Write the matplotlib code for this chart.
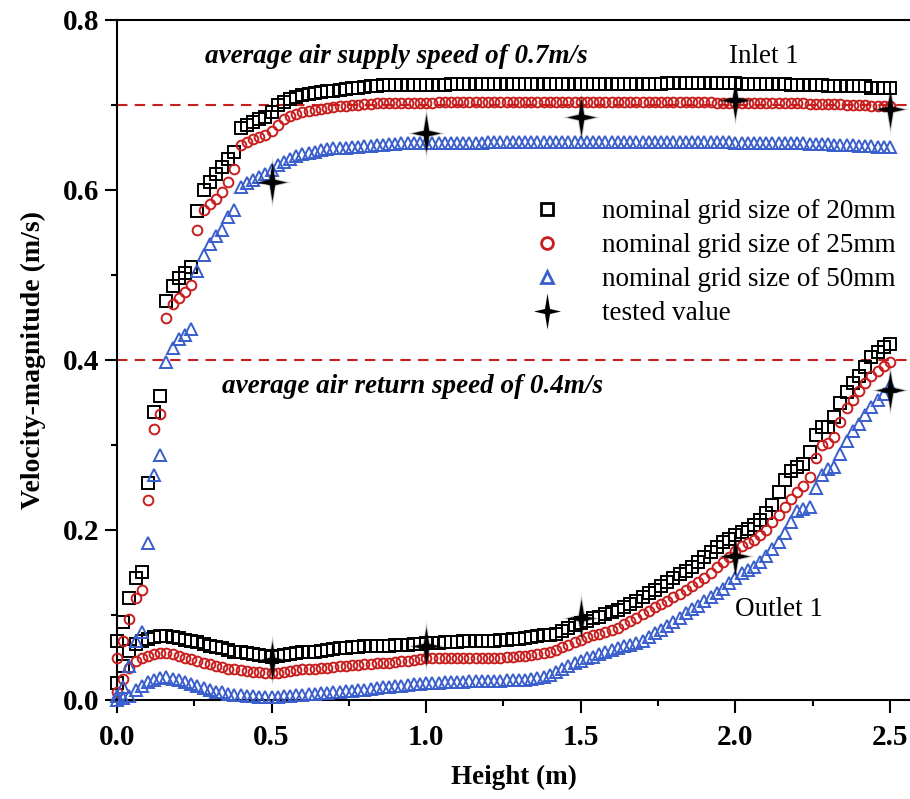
import numpy as np
import matplotlib
matplotlib.use('Agg')
import matplotlib.pyplot as plt
from matplotlib.lines import Line2D
from matplotlib.path import Path

plt.rcParams['font.family'] = ['Liberation Serif', 'DejaVu Serif']

# sample heights along the monitoring line (m)
heights = np.round(np.arange(0, 2.501, 0.02), 2)

# inlet 1 profiles (upper curves)
g20_in = [.070, .092, .120, .143, .151, .255, .339, .358, .470, .487,
          .496, .502, .510, .575, .600, .610, .619, .627, .636, .645,
          .673, .676, .680, .683, .686, .692, .700, .704, .707, .710,
          .712, .713, .714, .715, .716, .717, .718, .719, .720, .720,
          .721, .722, .722, .723, .723, .724, .724, .724, .724, .724,
          .724, .724, .724, .724, .725, .725, .725, .725, .725, .725,
          .725, .725, .725, .725, .725, .725, .725, .725, .725, .725,
          .725, .725, .725, .725, .725, .725, .725, .725, .725, .725,
          .725, .725, .725, .725, .725, .725, .725, .725, .725, .726,
          .726, .726, .726, .726, .726, .726, .726, .726, .726, .726,
          .726, .725, .725, .725, .725, .725, .725, .725, .725, .723,
          .723, .723, .723, .723, .723, .722, .722, .722, .722, .722,
          .722, .722, .720, .720, .720, .720]
g25_in = [.050, .070, .095, .120, .130, .235, .319, .337, .450, .466,
          .473, .480, .488, .553, .576, .584, .590, .598, .610, .625,
          .653, .656, .660, .662, .665, .670, .677, .684, .687, .690,
          .692, .693, .694, .695, .697, .698, .699, .699, .700, .700,
          .701, .701, .702, .702, .702, .702, .702, .702, .702, .702,
          .702, .702, .703, .703, .703, .703, .703, .703, .703, .703,
          .703, .703, .703, .703, .703, .703, .703, .703, .703, .703,
          .703, .703, .703, .703, .703, .703, .703, .703, .703, .703,
          .703, .703, .703, .703, .703, .703, .703, .703, .703, .703,
          .703, .703, .703, .703, .703, .703, .703, .702, .702, .702,
          .702, .702, .702, .702, .702, .702, .702, .702, .702, .702,
          .702, .702, .701, .701, .701, .701, .701, .701, .700, .700,
          .700, .700, .699, .699, .699, .699]
g50_in = [.005, .015, .040, .070, .080, .185, .265, .288, .398, .414,
          .425, .430, .437, .505, .524, .536, .546, .553, .568, .577,
          .604, .608, .612, .615, .619, .624, .630, .633, .636, .640,
          .642, .644, .645, .647, .648, .649, .650, .650, .651, .651,
          .652, .652, .653, .653, .654, .654, .655, .655, .655, .655,
          .655, .655, .655, .655, .655, .655, .655, .655, .655, .655,
          .656, .656, .656, .656, .656, .656, .656, .656, .656, .656,
          .656, .656, .656, .656, .656, .656, .656, .656, .656, .656,
          .656, .656, .656, .656, .656, .656, .656, .656, .656, .656,
          .656, .656, .656, .656, .656, .656, .656, .656, .656, .656,
          .655, .655, .655, .655, .655, .655, .655, .655, .655, .655,
          .655, .655, .654, .654, .654, .654, .653, .653, .653, .653,
          .652, .652, .652, .651, .651, .651]

# outlet 1 profiles (lower curves)
g20_out = [.020, .040, .058, .066, .070, .072, .074, .075, .075, .074,
           .073, .071, .070, .068, .066, .064, .062, .061, .059, .057,
           .056, .055, .054, .053, .052, .051, .052, .053, .054, .055,
           .056, .057, .057, .058, .059, .060, .061, .061, .062, .062,
           .063, .063, .064, .064, .064, .065, .065, .065, .066, .066,
           .067, .067, .067, .068, .068, .068, .069, .069, .069, .070,
           .070, .070, .071, .071, .072, .072, .073, .074, .075, .076,
           .077, .078, .081, .085, .088, .091, .093, .096, .098, .101,
           .103, .106, .110, .113, .117, .121, .126, .130, .134, .139,
           .144, .148, .152, .157, .162, .168, .174, .180, .186, .190,
           .194, .198, .201, .206, .212, .220, .230, .245, .259, .270,
           .274, .278, .292, .312, .321, .321, .333, .349, .362, .373,
           .381, .392, .403, .410, .415, .419]
g25_out = [.010, .025, .038, .046, .050, .052, .054, .055, .055, .054,
           .052, .050, .048, .046, .044, .042, .040, .039, .037, .036,
           .035, .034, .033, .033, .032, .032, .032, .033, .034, .035,
           .036, .036, .037, .038, .038, .039, .040, .040, .041, .041,
           .042, .042, .043, .044, .044, .045, .046, .046, .047, .048,
           .049, .049, .049, .049, .050, .050, .050, .050, .050, .050,
           .050, .050, .050, .051, .051, .052, .052, .053, .054, .055,
           .057, .059, .062, .065, .068, .071, .074, .076, .078, .080,
           .082, .085, .089, .093, .097, .101, .105, .109, .113, .117,
           .121, .125, .129, .134, .139, .144, .150, .156, .162, .168,
           .175, .181, .185, .188, .194, .200, .209, .218, .227, .236,
           .245, .252, .262, .285, .300, .302, .310, .327, .343, .353,
           .363, .373, .381, .387, .393, .398]
g50_out = [.000, .002, .005, .012, .017, .021, .024, .026, .027, .025,
           .023, .021, .019, .016, .014, .012, .010, .009, .007, .006,
           .006, .005, .005, .004, .004, .004, .004, .005, .005, .006,
           .006, .007, .007, .008, .008, .009, .010, .011, .011, .012,
           .012, .013, .014, .015, .015, .016, .017, .018, .019, .019,
           .020, .020, .020, .021, .021, .021, .021, .022, .022, .022,
           .022, .022, .022, .023, .023, .024, .024, .025, .026, .027,
           .030, .033, .037, .040, .043, .046, .049, .051, .054, .056,
           .059, .061, .063, .065, .067, .070, .074, .079, .082, .087,
           .092, .097, .102, .107, .111, .116, .121, .126, .131, .138,
           .144, .149, .153, .157, .162, .170, .178, .186, .196, .210,
           .222, .225, .227, .250, .265, .272, .274, .290, .305, .317,
           .325, .335, .345, .353, .360, .370]

# measured values
tested_x = [0.5, 1.0, 1.5, 2.0, 2.5]
tested_inlet = [0.609, 0.667, 0.686, 0.706, 0.695]
tested_outlet = [0.047, 0.064, 0.097, 0.169, 0.365]

supply_speed = 0.7
return_speed = 0.4

labels = ['nominal grid size of 20mm', 'nominal grid size of 25mm',
          'nominal grid size of 50mm', 'tested value']

black = '#000000'
red = '#c81e1e'
blue = '#3a5fcd'

# four pointed star for the tested values
r = 0.14
star = Path([(0, 1), (r, r), (0.75, 0), (r, -r), (0, -1), (-r, -r),
             (-0.75, 0), (-r, r), (0, 1)],
            [Path.MOVETO] + [Path.LINETO] * 7 + [Path.CLOSEPOLY])

fig = plt.figure(figsize=(9.1, 7.99), dpi=100)
ax = fig.add_axes([117 / 910, 99 / 799, 793 / 910, 680 / 799])

ax.axhline(supply_speed, color=red, ls=(0, (5, 3.5)), lw=1.5, zorder=1)
ax.axhline(return_speed, color=red, ls=(0, (5, 3.5)), lw=1.5, zorder=1)

series = [(g20_in, g20_out, 's', black, 8),
          (g25_in, g25_out, 'o', red, 7),
          (g50_in, g50_out, '^', blue, 8)]
for y_in, y_out, mk, col, ms in series:
    for y in (y_in, y_out):
        ax.plot(heights, y, ls='none', marker=mk, ms=ms, mfc='none',
                mec=col, mew=1.4, zorder=3, clip_on=False)

# stars with a soft dark halo
for y in (tested_inlet, tested_outlet):
    for ms, a in ((38, 0.08), (34, 0.14), (31, 0.22)):
        ax.plot(tested_x, y, ls='none', marker=star, ms=ms, color='black',
                mew=0, alpha=a, zorder=4, clip_on=False)
    ax.plot(tested_x, y, ls='none', marker=star, ms=27, color='black',
            mew=0, zorder=5, clip_on=False)

ax.set_xlim(0, 2.565)
ax.set_ylim(0, 0.8)
ax.set_xticks([0, 0.5, 1.0, 1.5, 2.0, 2.5])
ax.set_xticks([0.25, 0.75, 1.25, 1.75, 2.25], minor=True)
ax.set_yticks([0, 0.2, 0.4, 0.6, 0.8])
ax.set_yticks([0.1, 0.3, 0.5, 0.7], minor=True)
ax.set_xticklabels(['0.0', '0.5', '1.0', '1.5', '2.0', '2.5'])
ax.set_yticklabels(['0.0', '0.2', '0.4', '0.6', '0.8'])
ax.tick_params(which='major', direction='out', length=9, width=1.5,
               labelsize=21, pad=8)
ax.tick_params(which='minor', direction='out', length=4.5, width=1.5)
ax.tick_params(axis='y', pad=4)
for lab in ax.get_xticklabels() + ax.get_yticklabels():
    lab.set_fontweight('bold')
for s in ('left', 'bottom', 'top'):
    ax.spines[s].set_linewidth(1.5)
ax.spines['right'].set_visible(False)

ax.set_xlabel('Height (m)', fontsize=19.5, fontweight='bold', labelpad=10)
ax.set_ylabel('Velocity-magnitude (m/s)', fontsize=20, fontweight='bold',
              labelpad=12)

ax.text(0.285, 0.757, 'average air supply speed of 0.7m/s', fontsize=19.5,
        fontweight='bold', style='italic', va='center')
ax.text(1.98, 0.757, 'Inlet 1', fontsize=19.5, va='center')
ax.text(0.34, 0.369, 'average air return speed of 0.4m/s', fontsize=19.5,
        fontweight='bold', style='italic', va='center')
ax.text(2.0, 0.106, 'Outlet 1', fontsize=19.5, va='center')

handles = [Line2D([], [], ls='none', marker='s', ms=9, mfc='none', mec=black, mew=2),
           Line2D([], [], ls='none', marker='o', ms=8.5, mfc='none', mec=red, mew=2),
           Line2D([], [], ls='none', marker='^', ms=9, mfc='none', mec=blue, mew=2),
           Line2D([], [], ls='none', marker=star, ms=26, color='black', mew=0)]
ax.legend(handles, labels, loc='upper left', bbox_to_anchor=(0.512, 0.752),
          frameon=False, fontsize=19.5, handlelength=1.0, handletextpad=1.5,
          labelspacing=0.33, borderaxespad=0)

fig.savefig('out.png', dpi=100)
